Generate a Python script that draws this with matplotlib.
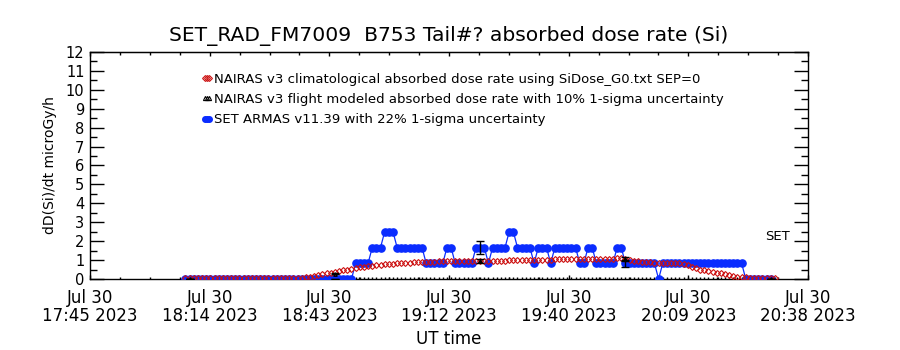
import numpy as np
import matplotlib.pyplot as plt
from matplotlib.lines import Line2D

# times are minutes after 17:45 UT, one sample per minute
t_start = 23
nairas_clim = [
    0.05, 0.05, 0.05, 0.05, 0.05, 0.05, 0.05, 0.05, 0.05, 0.05,   # 23-32
    0.05, 0.05, 0.05, 0.05, 0.05, 0.05, 0.05, 0.05, 0.05, 0.05,   # 33-42
    0.05, 0.05, 0.05, 0.05, 0.05, 0.05, 0.05, 0.05, 0.06, 0.08,   # 43-52
    0.12, 0.16, 0.20, 0.25, 0.30, 0.34, 0.38, 0.42, 0.45, 0.50,   # 53-62
    0.55, 0.58, 0.62, 0.65, 0.68, 0.70, 0.72, 0.75, 0.77, 0.79,   # 63-72
    0.80, 0.82, 0.83, 0.85, 0.86, 0.88, 0.89, 0.90, 0.91, 0.92,   # 73-82
    0.92, 0.93, 0.93, 0.93, 0.94, 0.94, 0.94, 0.95, 0.95, 0.95,   # 83-92
    0.96, 0.96, 0.96, 0.96, 0.97, 0.97, 0.97, 0.97, 0.98, 0.98,   # 93-102
    0.99, 0.99, 1.00, 1.00, 1.00, 1.01, 1.01, 1.02, 1.02, 1.03,   # 103-112
    1.03, 1.04, 1.04, 1.05, 1.05, 1.06, 1.06, 1.06, 1.07, 1.07,   # 113-122
    1.07, 1.08, 1.08, 1.08, 1.09, 1.09, 1.05, 1.00, 0.96, 0.93,   # 123-132
    0.91, 0.90, 0.88, 0.86, 0.85, 0.84, 0.83, 0.83, 0.84, 0.85,   # 133-142
    0.78, 0.72, 0.65, 0.58, 0.50, 0.46, 0.42, 0.37, 0.33, 0.29,   # 143-152
    0.25, 0.20, 0.16, 0.12, 0.10, 0.08, 0.07, 0.07, 0.06, 0.06,   # 153-162
    0.05, 0.05, 0.05,                                             # 163-165
]
set_armas = [
    0, 0, 0, 0, 0, 0, 0, 0, 0, 0,                                 # 23-32
    0, 0, 0, 0, 0, 0, 0, 0, 0, 0,                                 # 33-42
    0, 0, 0, 0, 0, 0, 0, 0, 0, 0,                                 # 43-52
    0, 0, 0, 0, 0, 0, 0, 0, 0, 0,                                 # 53-62
    0, 0.83, 0.83, 0.83, 0.83, 1.66, 1.66, 1.66, 2.5, 2.5,        # 63-72
    2.5, 1.66, 1.66, 1.66, 1.66, 1.66, 1.66, 1.66, 0.83, 0.83,    # 73-82
    0.83, 0.83, 0.83, 1.66, 1.66, 0.83, 0.83, 0.83, 0.83, 0.83,   # 83-92
    1.66, 1.66, 1.66, 0.83, 1.66, 1.66, 1.66, 1.66, 2.5, 2.5,     # 93-102
    1.66, 1.66, 1.66, 1.66, 0.83, 1.66, 1.66, 1.66, 0.83, 1.66,   # 103-112
    1.66, 1.66, 1.66, 1.66, 1.66, 0.83, 0.83, 1.66, 1.66, 0.83,   # 113-122
    0.83, 0.83, 0.83, 0.83, 1.66, 1.66, 0.83, 0.83, 0.83, 0.83,   # 123-132
    0.83, 0.83, 0.83, 0.83, 0, 0.83, 0.83, 0.83, 0.83, 0.83,      # 133-142
    0.83, 0.83, 0.83, 0.83, 0.83, 0.83, 0.83, 0.83, 0.83, 0.83,   # 143-152
    0.83, 0.83, 0.83, 0.83, 0.83, 0, 0, 0, 0, 0,                  # 153-162
    0, 0,                                                         # 163-164
]
# points carrying uncertainty bars
err_t = [24, 59, 94, 129, 164]
nairas_flight = [0.0, 0.28, 0.95, 1.05, 0.0]
set_at_err = [0.0, 0.0, 1.66, 0.83, 0.0]

xticklabels = ["Jul 30\n17:45 2023", "Jul 30\n18:14 2023", "Jul 30\n18:43 2023",
               "Jul 30\n19:12 2023", "Jul 30\n19:40 2023", "Jul 30\n20:09 2023",
               "Jul 30\n20:38 2023"]
span = 173.0

t_clim = t_start + np.arange(len(nairas_clim))
t_set = t_start + np.arange(len(set_armas))

red = '#cc1010'
blue = '#0a2cff'

fig = plt.figure(figsize=(9, 3.5), dpi=100)
ax = fig.add_axes([0.1, 0.2029, 0.7978, 0.6486])

ax.plot(t_set, set_armas, '-', color=blue, lw=0.9, marker='o', ms=5.2,
        mec=blue, mfc=blue, zorder=3)
ax.plot(t_clim, nairas_clim, ls='none', marker='D', ms=3.0, mfc='none',
        mec=red, mew=0.8, zorder=4)
ax.errorbar(err_t, set_at_err, yerr=0.22 * np.array(set_at_err), fmt='none',
            ecolor='black', elinewidth=1, capsize=3, zorder=5)
ax.errorbar(err_t, nairas_flight, yerr=0.10 * np.array(nairas_flight),
            fmt='^', ms=2.5, mfc='none', mec='black', ecolor='black',
            elinewidth=1, capsize=3, zorder=5)

ax.set_xlim(0, span)
ax.set_ylim(0, 12)
major_x = [span * i / 6 for i in range(7)]
coarse_minor = [span * i / 24 for i in range(25)]
ax.set_xticks(major_x)
ax.set_xticklabels(xticklabels, fontsize=12, linespacing=1.05)
# bottom axis: coarse minor ticks plus a one-minute comb over the flight
ax.set_xticks(sorted(set(coarse_minor) | set(range(63, 166))), minor=True)
ax.set_yticks(range(13))
ax.set_yticks(np.arange(0.5, 12, 1.0), minor=True)
ax.set_yticklabels([str(i) for i in range(13)], fontsize=10.5)

# top axis with only the coarse ticks
top = ax.secondary_xaxis('top')
top.set_xticks(major_x, labels=[])
top.set_xticks(coarse_minor, minor=True)
top.tick_params(which='major', direction='in', length=3.2, width=1)
top.tick_params(which='minor', direction='in', length=1.8, width=1)

ax.tick_params(axis='y', which='major', direction='in', length=10, width=1,
               right=True, pad=4)
ax.tick_params(axis='y', which='minor', direction='in', length=5, width=1,
               right=True)
ax.tick_params(axis='x', which='major', direction='in', length=3.2, width=1,
               top=False, pad=7)
ax.tick_params(axis='x', which='minor', direction='in', length=1.8, width=1,
               top=False)
for s in ax.spines.values():
    s.set_linewidth(1)

ax.set_xlabel('UT time', fontsize=12, labelpad=3)
ax.set_ylabel('dD(Si)/dt microGy/h', fontsize=10, labelpad=6)
ax.text(0.975, 2.25, 'SET', transform=ax.get_yaxis_transform(),
        ha='right', va='center', fontsize=9.5)

fig.text(0.499, 0.897, 'SET_RAD_FM7009  B753 Tail#? absorbed dose rate (Si)',
         ha='center', va='center', fontsize=14.6)

handles = [
    Line2D([], [], ls='none', marker='D', ms=3, mfc='none', mec=red, mew=0.8),
    Line2D([], [], ls='none', marker='^', ms=3, mfc='none', mec='black', mew=0.8),
    Line2D([], [], color=blue, lw=1, marker='o', ms=4, mfc=blue, mec=blue),
]
labels = [
    'NAIRAS v3 climatological absorbed dose rate using SiDose_G0.txt SEP=0',
    'NAIRAS v3 flight modeled absorbed dose rate with 10% 1-sigma uncertainty',
    'SET ARMAS v11.39 with 22% 1-sigma uncertainty',
]
ax.legend(handles, labels, loc='upper left', bbox_to_anchor=(0.155, 0.908),
          frameon=False, fontsize=9.5, numpoints=3, handlelength=0.9,
          handletextpad=0.1, borderpad=0, borderaxespad=0, labelspacing=0.55)

fig.savefig('out.png', dpi=100)
